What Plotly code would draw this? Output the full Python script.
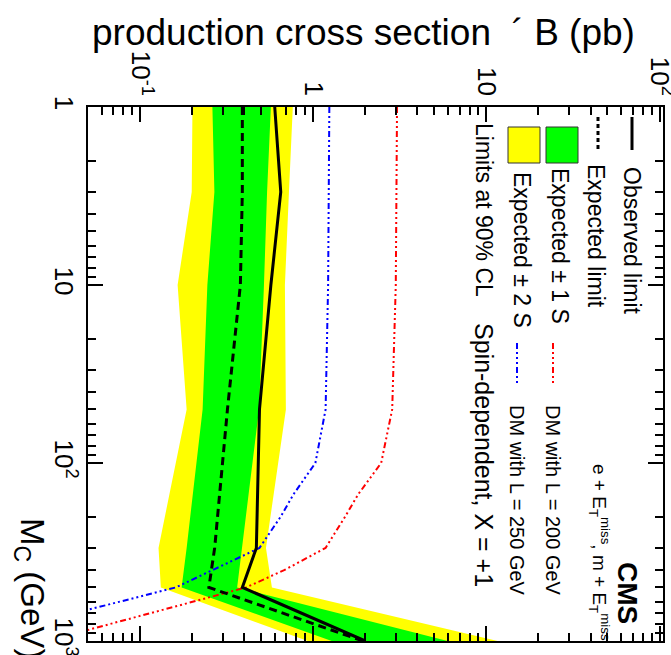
import plotly.graph_objects as go

# M_chi points (GeV) and limits (pb)
MASS = [1, 3, 10, 50, 300, 500, 1000]
OBSERVED = [0.60, 0.65, 0.57, 0.49, 0.47, 0.39, 2.0]
EXPECTED = [0.39, 0.39, 0.38, 0.32, 0.27, 0.25, 1.94]
EXP_1S_LO = [0.262, 0.269, 0.245, 0.230, 0.186, 0.174, 1.28]
EXP_1S_HI = [0.570, 0.542, 0.520, 0.487, 0.389, 0.364, 5.98]
EXP_2S_LO = [0.201, 0.199, 0.165, 0.186, 0.128, 0.132, 0.93]
EXP_2S_HI = [0.763, 0.725, 0.687, 0.696, 0.534, 0.578, 11.6]

# DM theory curves
DM_MASS_200 = [1, 10, 50, 100, 150, 200, 300, 400, 500, 1000]
DM_200 = [3.05, 3.0, 2.86, 2.47, 1.82, 1.53, 1.18, 0.68, 0.41, 0.029]
DM_MASS_250 = [1, 10, 50, 100, 150, 200, 300, 500, 1000]
DM_250 = [1.24, 1.22, 1.18, 1.03, 0.77, 0.65, 0.49, 0.161, 0.0098]

XS_TICKS = [0.1, 1, 10, 100]
XS_TICKTEXT = ["10<sup>-1</sup>", "1", "10", "10<sup>2</sup>"]
M_TICKS = [1, 10, 100, 1000]
M_TICKTEXT = ["1", "10", "10<sup>2</sup>", "10<sup>3</sup>"]

W, H = 671, 655
L, R, T, B = 88, 8, 107, 14
FONT = "Liberation Sans, Arial, Helvetica, sans-serif"
DASHDOT = "6px,3px,2px,3px,2px,3px,2px,3px"


def px(x):
    return (x - L) / (W - L - R)


def py(y):
    return 1 - (y - T) / (H - T - B)


def minor_vals(lo_dec, hi_dec, lo, hi):
    vals = []
    for d in range(lo_dec, hi_dec + 1):
        for k in range(2, 10):
            v = k * 10 ** d
            if lo <= v <= hi:
                vals.append(v)
    return vals


fig = go.Figure()

# bands (horizontal, plot is rotated)
fig.add_trace(go.Scatter(
    x=EXP_2S_LO + EXP_2S_HI[::-1], y=MASS + MASS[::-1],
    fill="toself", fillcolor="#ffff00", line=dict(width=0), mode="lines",
))
fig.add_trace(go.Scatter(
    x=EXP_1S_LO + EXP_1S_HI[::-1], y=MASS + MASS[::-1],
    fill="toself", fillcolor="#00ff00", line=dict(width=0), mode="lines",
))

fig.add_trace(go.Scatter(
    x=DM_200, y=DM_MASS_200, mode="lines",
    line=dict(color="#ff0000", width=2, dash=DASHDOT),
))
fig.add_trace(go.Scatter(
    x=DM_250, y=DM_MASS_250, mode="lines",
    line=dict(color="#0000ff", width=2, dash=DASHDOT),
))
fig.add_trace(go.Scatter(
    x=EXPECTED, y=MASS, mode="lines",
    line=dict(color="black", width=3, dash="8px,5px"),
))
fig.add_trace(go.Scatter(
    x=OBSERVED, y=MASS, mode="lines",
    line=dict(color="black", width=3),
))

# legend drawn by hand (rotated)
P = dict(xref="paper", yref="paper")
shapes = [
    dict(type="line", x0=px(632), x1=px(632), y0=py(117), y1=py(150),
         line=dict(color="black", width=3), **P),
    dict(type="line", x0=px(598), x1=px(598), y0=py(117), y1=py(150),
         line=dict(color="black", width=3, dash="4px,3px"), **P),
    dict(type="rect", x0=px(546), x1=px(578), y0=py(127), y1=py(163),
         fillcolor="#00ff00", line=dict(color="#333333", width=1), **P),
    dict(type="rect", x0=px(508), x1=px(540), y0=py(127), y1=py(163),
         fillcolor="#ffff00", line=dict(color="#333333", width=1), **P),
    dict(type="line", x0=px(553), x1=px(553), y0=py(343), y1=py(385),
         line=dict(color="#ff0000", width=2, dash=DASHDOT), **P),
    dict(type="line", x0=px(517), x1=px(517), y0=py(343), y1=py(385),
         line=dict(color="#0000ff", width=2, dash=DASHDOT), **P),
]


def rot(text, x, y, size=23, **kw):
    return dict(text=text, x=px(x), y=py(y), xref="paper", yref="paper",
                textangle=90, showarrow=False, xanchor="center", yanchor="middle",
                font=dict(size=size, color="black", family=FONT), **kw)


annotations = [
    rot("Observed limit", 632, 241),
    rot("Expected limit", 596, 236),
    rot("Expected ± 1 S", 560, 246),
    rot("Expected ± 2 S", 522, 250),
    rot("DM with L = 200 GeV", 553, 500, size=20),
    rot("DM with L = 250 GeV", 517, 500, size=20),
    rot("Limits at 90% CL", 484, 210, size=23),
    rot("Spin-dependent, X = +1", 484, 455, size=25),
    rot("e + E<sub>T</sub><sup>miss</sup>, m + E<sub>T</sub><sup>miss</sup>", 600, 552, size=19),
    rot("<b>CMS</b>", 628, 593, size=28),
    rot("M<sub>C</sub> (GeV)", 30, 588, size=33),
    dict(text="production cross section  ´ B (pb)", x=px(90), y=py(32),
         xref="paper", yref="paper", showarrow=False, xanchor="left", yanchor="middle",
         font=dict(size=37, color="black", family=FONT)),
]

fig.update_layout(
    width=W, height=H,
    margin=dict(l=L, r=R, t=T, b=B),
    paper_bgcolor="white", plot_bgcolor="white",
    showlegend=False,
    font=dict(family=FONT, color="black", size=20),
    shapes=shapes, annotations=annotations,
)
fig.update_xaxes(
    type="log", range=[-1.30, 2.02], side="top", automargin=False,
    tickvals=XS_TICKS, ticktext=XS_TICKTEXT, tickangle=90,
    ticklabeloverflow="allow",
    ticks="inside", ticklen=15, tickwidth=1.5, tickcolor="black",
    showline=True, linecolor="black", linewidth=2, mirror="ticks",
    showgrid=False, zeroline=False,
    minor=dict(tickvals=minor_vals(-2, 1, 0.05, 100), ticks="inside",
               ticklen=8, tickwidth=1.5, tickcolor="black", showgrid=False),
    tickfont=dict(size=26),
)
fig.update_yaxes(
    type="log", range=[3, 0], automargin=False,
    tickvals=M_TICKS, ticktext=M_TICKTEXT, tickangle=90,
    ticklabeloverflow="allow",
    ticks="inside", ticklen=15, tickwidth=1.5, tickcolor="black",
    showline=True, linecolor="black", linewidth=2, mirror="ticks",
    showgrid=False, zeroline=False,
    minor=dict(tickvals=minor_vals(0, 2, 1, 1000), ticks="inside",
               ticklen=8, tickwidth=1.5, tickcolor="black", showgrid=False),
    tickfont=dict(size=26),
)

# the page's default body margin would shift the figure by 8px
fig.write_html("out.html", config={"displayModeBar": False},
               post_script="document.body.style.margin='0';")
